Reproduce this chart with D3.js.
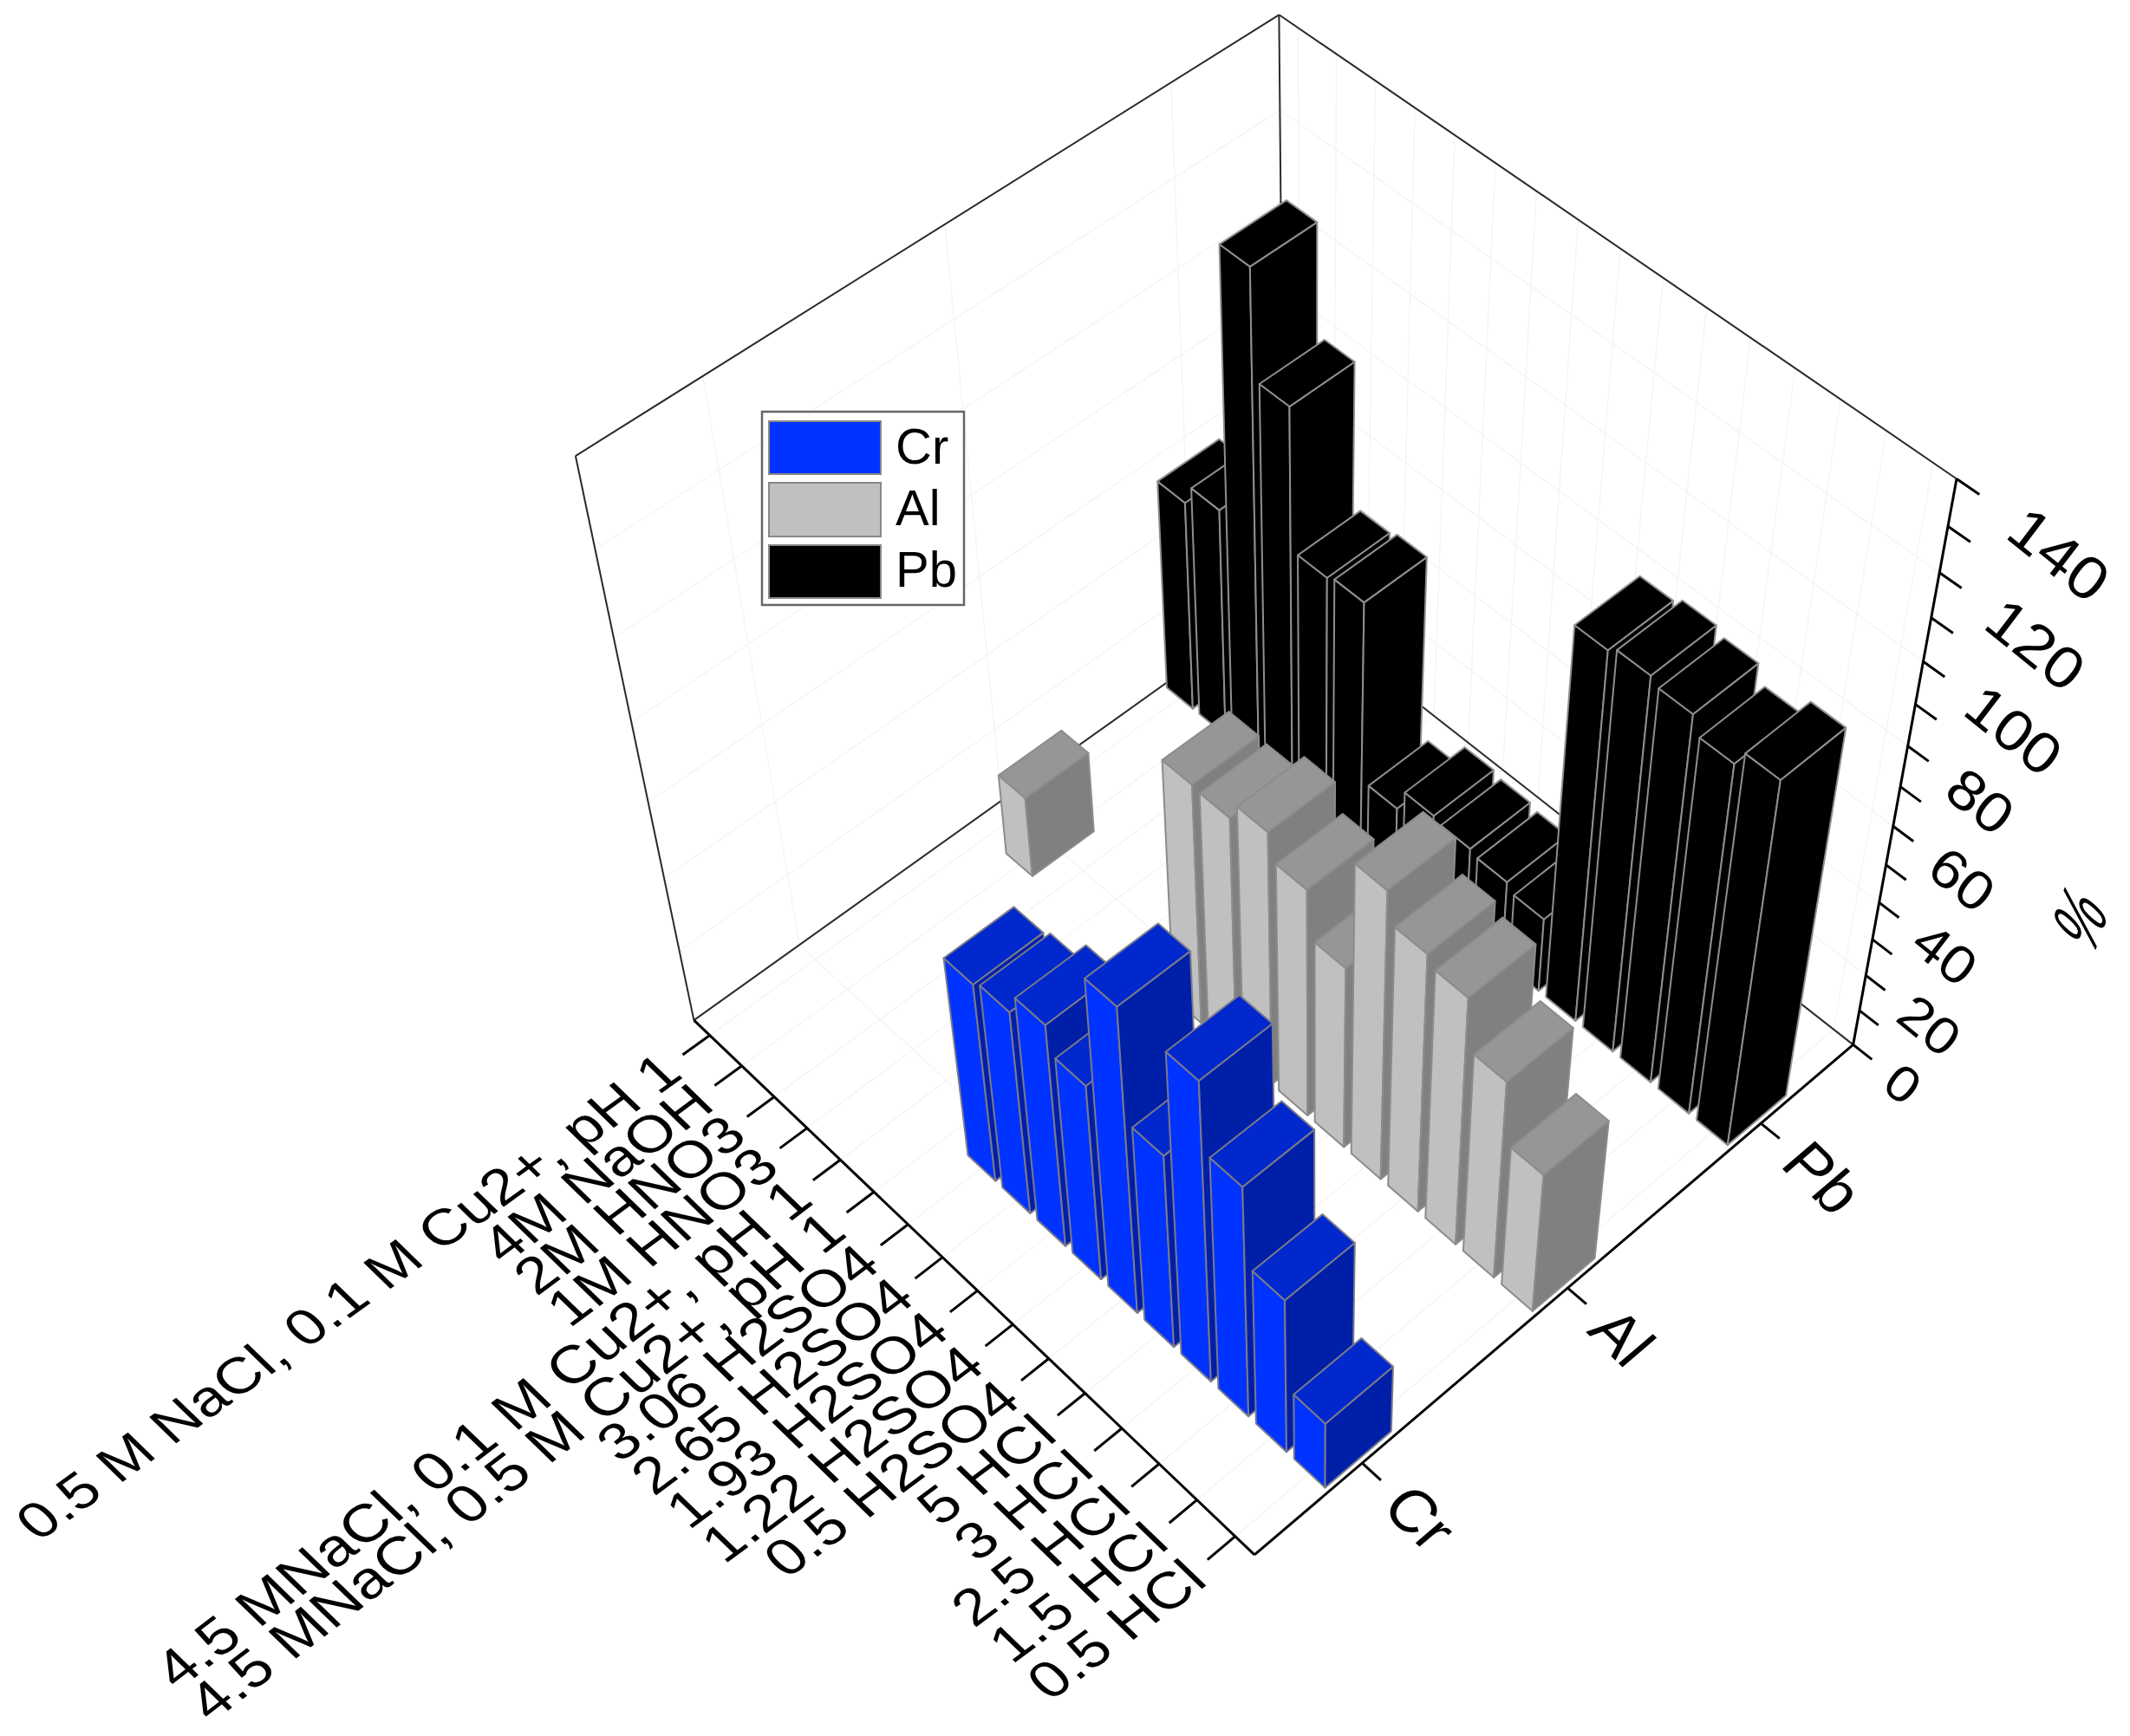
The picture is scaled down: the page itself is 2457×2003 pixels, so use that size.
<!DOCTYPE html>
<html><head><meta charset="utf-8">
<script src="https://cdn.jsdelivr.net/npm/d3@7"></script>
<style>html,body{margin:0;padding:0;background:#fff}svg{display:block}text{font-family:"Liberation Sans",Arial,sans-serif;fill:#000}</style>
</head><body><svg id="c" width="2457" height="2003"></svg>
<script>
const categories=["0.5 HCl","1.5 HCl","2.5 HCl","3 HCl","5 HCl","0.5 H2SO4","1.22 H2SO4","1.93 H2SO4","2.65 H2SO4","3.06 H2SO4","4.5 MNaCl, 0.5 M Cu2+, pH 1","4.5 MNaCl, 0.1 M Cu2+, pH 1","1M HNO3","2M HNO3","4M NaOH","0.5 M NaCl, 0.1 M Cu2+, pH 1"];
const seriesNames=["Cr","Al","Pb"];
const crValues=[20,45.5,66.5,84.5,55.5,85,55.5,62.5,57,55.5,null,null,null,null,null,null];
const alValues=[40,56,69,71.5,79,50.5,62.5,69,64.5,65,null,null,null,null,22,null];
const pbValues=[97,93,97,98.5,97,20.5,22.5,23.5,24.5,18.5,65,64,98,122.7,60,55];
const zTicks=[0,20,40,60,80,100,120,140];
const zMinor=[10,30,50,70,90,110,130];
const colors={Cr:{left:"#0033ff",right:"#001fa8",top:"#0028cc",edge:"#7a7a8a"},
 Al:{left:"#c0c0c0",right:"#808080",top:"#969696",edge:"#8c8c8c"},
 Pb:{left:"#000000",right:"#000000",top:"#000000",edge:"#8e8e8e"}};
const S=1.5695;
const F=[922*S,1143*S],L=[510*S,750*S],R=[1362*S,768*S],B=[944*S,440*S],N=[967*S,2929*S];
const topR=[1438*S,352*S];
function squareToQuad(p0,p1,p2,p3){
 const dx1=p1[0]-p2[0],dx2=p3[0]-p2[0],sx=p0[0]-p1[0]+p2[0]-p3[0];
 const dy1=p1[1]-p2[1],dy2=p3[1]-p2[1],sy=p0[1]-p1[1]+p2[1]-p3[1];
 const d=dx1*dy2-dx2*dy1;
 const g=(sx*dy2-dx2*sy)/d,h=(dx1*sy-sx*dy1)/d;
 return [p1[0]-p0[0]+g*p1[0],p3[0]-p0[0]+h*p3[0],p0[0],
         p1[1]-p0[1]+g*p1[1],p3[1]-p0[1]+h*p3[1],p0[1],g,h,1];
}
const H=squareToQuad(F,L,B,R);
const wR=H[7]+1;
const kR=(N[1]-topR[1])/(N[1]-R[1]);
const s=wR*(1/kR-1);
function proj(x,y,z){
 const X=H[0]*x+H[1]*y+H[2],Y=H[3]*x+H[4]*y+H[5],W=H[6]*x+H[7]*y+1;
 const t=s*z;
 return [(X+t*N[0])/(W+t),(Y+t*N[1])/(W+t)];
}
const xS=d3.scaleBand().domain(d3.range(categories.length)).range([0,1]).paddingInner(0.2).paddingOuter(0.1);
const yS=d3.scalePoint().domain(seriesNames).range([0,1]).padding(0.5);
const yHalf=0.052;
const zS=d3.scaleLinear().domain([0,140]).range([0,1]);
const svg=d3.select("#c");
const line=d3.line();
function seg(g,a,b,st,w){g.append("path").attr("d",line([a,b])).attr("stroke",st).attr("stroke-width",w).attr("fill","none");}
const grid=svg.append("g");
const gc="#f3f3f3";
zTicks.forEach(t=>{const z=zS(t);
 seg(grid,proj(1,0,z),proj(1,1,z),gc,1.2);
 seg(grid,proj(0,1,z),proj(1,1,z),gc,1.2);});
categories.forEach((c,i)=>{const x=xS(i)+xS.bandwidth()/2;
 seg(grid,proj(x,0,0),proj(x,1,0),gc,1.2);
 seg(grid,proj(x,1,0),proj(x,1,1),gc,1.2);});
seriesNames.forEach(n=>{const y=yS(n);
 seg(grid,proj(0,y,0),proj(1,y,0),gc,1.2);
 seg(grid,proj(1,y,0),proj(1,y,1),gc,1.2);});
const fr=svg.append("g");
const cs="#2a2a2a";
seg(fr,proj(1,0,0),proj(1,0,1),cs,2);
seg(fr,proj(1,0,1),proj(1,1,1),cs,2);
seg(fr,proj(1,1,1),proj(0,1,1),cs,2);
seg(fr,proj(1,1,1),proj(1,1,0),cs,2);
seg(fr,proj(1,0,0),proj(1,1,0),cs,2);
seg(fr,proj(0,1,0),proj(1,1,0),cs,2);
const bars=svg.append("g");
const seriesData={Cr:crValues,Al:alValues,Pb:pbValues};
[...seriesNames].reverse().forEach(name=>{
 const vals=seriesData[name],col=colors[name];
 d3.range(categories.length-1,-1,-1).forEach(i=>{
  const v=vals[i]; if(v==null) return;
  const x0=xS(i),x1=x0+xS.bandwidth(),yc=yS(name),y0=yc-yHalf,y1=yc+yHalf,z=zS(v);
  const face=(pts,fill)=>bars.append("path").attr("d",line(pts)+"Z").attr("fill",fill).attr("stroke",col.edge).attr("stroke-width",2).attr("stroke-linejoin","round");
  face([proj(x0,y0,0),proj(x1,y0,0),proj(x1,y0,z),proj(x0,y0,z)],col.left);
  face([proj(x0,y0,0),proj(x0,y1,0),proj(x0,y1,z),proj(x0,y0,z)],col.right);
  face([proj(x0,y0,z),proj(x1,y0,z),proj(x1,y1,z),proj(x0,y1,z)],col.top);
 });
});
const ax=svg.append("g");
seg(ax,proj(1,0,0),proj(0,0,0),"#000",3);
seg(ax,proj(0,0,0),proj(0,1,0),"#000",3);
seg(ax,proj(0,1,0),proj(0,1,1),"#000",3);
const labelV=[0.66,0.64];
categories.forEach((c,i)=>{
 const x=xS(i)+xS.bandwidth()/2;
 seg(ax,proj(x,0,0),proj(x,-0.042,0),"#000",3);
 const p=proj(x,-0.06,0);
 const long=i===10||i===11;
 const u=i===15?[0.811,-0.585]:long?[0.794,-0.608]:[0.80,-0.596];
 ax.append("text").text(c).attr("font-size",long?70.5:i===15?68.5:69).attr("text-anchor","end")
  .attr("transform",`matrix(${u[0]},${u[1]},${labelV[0]},${labelV[1]},${p[0]},${p[1]})`).attr("dy","0.35em");
});
const serU=[0.72,0.69],serV=[-0.76,0.65];
seriesNames.forEach(n=>{
 const y=yS(n);
 seg(ax,proj(0,y,0),proj(-0.03,y,0),"#000",3);
 const p=proj(-0.055,y,0);
 ax.append("text").text(n).attr("font-size",72).attr("text-anchor","start")
  .attr("transform",`matrix(${serU[0]},${serU[1]},${serV[0]},${serV[1]},${p[0]},${p[1]})`).attr("dy","0.35em");
});
zTicks.concat(zMinor).forEach(t=>{const z=zS(t);
 seg(ax,proj(0,1,z),proj(-0.03,1,z),"#000",3);});
zTicks.forEach(t=>{const z=zS(t);
 const p=proj(-0.06-0.018*z*z,1,z);
 ax.append("text").text(t).attr("font-size",64+t/140*12).attr("text-anchor","start")
  .attr("transform",`matrix(0.78,0.63,-0.55,0.72,${p[0]},${p[1]})`).attr("dy","0.35em");
});
ax.append("text").text("%").attr("font-size",66).attr("text-anchor","middle")
 .attr("transform",`matrix(-0.317,0.869,-1.02,-0.945,2400,1060)`).attr("dy","0.35em");
const lg=svg.append("g");
lg.append("rect").attr("x",879).attr("y",475).attr("width",233).attr("height",223).attr("fill","#fff").attr("stroke","#666").attr("stroke-width",2.5);
const legY=[486,557,629],legH=[61,62,61],legB=[535,606,677];
seriesNames.forEach((n,i)=>{
 lg.append("rect").attr("x",887).attr("y",legY[i]).attr("width",129).attr("height",legH[i]).attr("fill",colors[n].left).attr("stroke","#888").attr("stroke-width",2);
 lg.append("text").text(n).attr("x",1033).attr("y",legB[i]).attr("font-size",58);
});
</script></body></html>
